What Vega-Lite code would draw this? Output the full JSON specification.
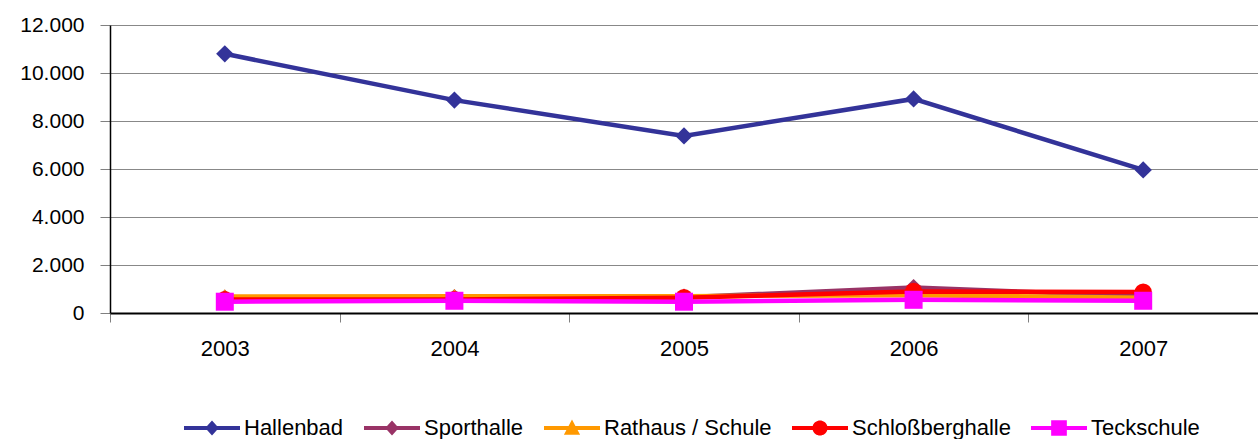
{
  "$schema": "https://vega.github.io/schema/vega-lite/v6.json",
  "width": 1148,
  "height": 288,
  "autosize": {"type": "none"},
  "padding": {"left": 110, "top": 25, "right": 0, "bottom": 126},
  "background": "white",
  "config": {"view": {"stroke": null}, "font": "Liberation Sans"},
  "data": {"values": [
    {"Jahr": "2003", "Objekt": "Hallenbad", "Wert": 10800},
    {"Jahr": "2004", "Objekt": "Hallenbad", "Wert": 8870},
    {"Jahr": "2005", "Objekt": "Hallenbad", "Wert": 7380},
    {"Jahr": "2006", "Objekt": "Hallenbad", "Wert": 8920},
    {"Jahr": "2007", "Objekt": "Hallenbad", "Wert": 5960},
    {"Jahr": "2003", "Objekt": "Sporthalle", "Wert": 620},
    {"Jahr": "2004", "Objekt": "Sporthalle", "Wert": 640},
    {"Jahr": "2005", "Objekt": "Sporthalle", "Wert": 660},
    {"Jahr": "2006", "Objekt": "Sporthalle", "Wert": 1060},
    {"Jahr": "2007", "Objekt": "Sporthalle", "Wert": 700},
    {"Jahr": "2003", "Objekt": "Rathaus / Schule", "Wert": 690},
    {"Jahr": "2004", "Objekt": "Rathaus / Schule", "Wert": 700},
    {"Jahr": "2005", "Objekt": "Rathaus / Schule", "Wert": 700},
    {"Jahr": "2006", "Objekt": "Rathaus / Schule", "Wert": 740},
    {"Jahr": "2007", "Objekt": "Rathaus / Schule", "Wert": 640},
    {"Jahr": "2003", "Objekt": "Schloßberghalle", "Wert": 560},
    {"Jahr": "2004", "Objekt": "Schloßberghalle", "Wert": 560},
    {"Jahr": "2005", "Objekt": "Schloßberghalle", "Wert": 640},
    {"Jahr": "2006", "Objekt": "Schloßberghalle", "Wert": 900},
    {"Jahr": "2007", "Objekt": "Schloßberghalle", "Wert": 870},
    {"Jahr": "2003", "Objekt": "Teckschule", "Wert": 470},
    {"Jahr": "2004", "Objekt": "Teckschule", "Wert": 510},
    {"Jahr": "2005", "Objekt": "Teckschule", "Wert": 470},
    {"Jahr": "2006", "Objekt": "Teckschule", "Wert": 550},
    {"Jahr": "2007", "Objekt": "Teckschule", "Wert": 510}
  ]},
  "encoding": {
    "x": {
      "field": "Jahr", "type": "ordinal",
      "scale": {"type": "band", "paddingInner": 0, "paddingOuter": 0},
      "axis": {
        "title": null, "labelAngle": 0, "tickBand": "extent", "tickSize": 9,
        "tickColor": "#808080", "domainColor": "#000000", "domainWidth": 2,
        "labelFont": "Liberation Sans", "labelFontSize": 22, "labelPadding": 16, "labelColor": "#000000", "grid": false
      }
    },
    "y": {
      "field": "Wert", "type": "quantitative",
      "scale": {"domain": [0, 12000]},
      "axis": {
        "title": null, "values": [0, 2000, 4000, 6000, 8000, 10000, 12000],
        "grid": true, "gridColor": "#888888", "gridWidth": 1,
        "tickSize": 10, "tickColor": "#808080", "domainColor": "#000000", "domainWidth": 1.5,
        "labelFont": "Liberation Sans", "labelFontSize": 21, "labelPadding": 16, "labelColor": "#000000",
        "labelExpr": "replace(format(datum.value, ','), ',', '.')"
      }
    },
    "color": {
      "field": "Objekt", "type": "nominal",
      "scale": {
        "domain": ["Hallenbad", "Sporthalle", "Rathaus / Schule", "Schloßberghalle", "Teckschule"],
        "range": ["#333399", "#993366", "#FF9900", "#FF0000", "#FF00FF"]
      },
      "legend": {
        "title": null, "orient": "none", "legendX": 74, "legendY": 375,
        "direction": "horizontal", "symbolSize": 3136, "labelOffset": 4,
        "columnPadding": 20, "labelFontSize": 22, "labelColor": "#000000", "labelLimit": 0,
        "symbolStrokeWidth": 0, "symbolOpacity": 1,
        "encode": {
          "symbols": {
            "update": {
              "shape": {"signal": "datum.value === 'Rathaus / Schule' ? 'M-1,-0.071L-0.123,-0.071L0,-0.3L0.123,-0.071L1,-0.071L1,0.071L0.199,0.071L0.29,0.24L-0.29,0.24L-0.199,0.071L-1,0.071Z' : datum.value === 'Schloßberghalle' ? 'M-1,-0.071L-0.26,-0.071A0.27,0.27,0,0,1,0.26,-0.071L1,-0.071L1,0.071L0.26,0.071A0.27,0.27,0,0,1,-0.26,0.071L-1,0.071Z' : datum.value === 'Teckschule' ? 'M-1,-0.071L-0.28,-0.071L-0.28,-0.28L0.28,-0.28L0.28,-0.071L1,-0.071L1,0.071L0.28,0.071L0.28,0.28L-0.28,0.28L-0.28,0.071L-1,0.071Z' : 'M-1,-0.071L-0.177,-0.071L0,-0.27L0.177,-0.071L1,-0.071L1,0.071L0.177,0.071L0,0.27L-0.177,0.071L-1,0.071Z'"}
            }
          }
        }
      }
    }
  },
  "layer": [
    {"mark": {"type": "line", "strokeWidth": 4.5}},
    {
      "transform": [{"filter": {"field": "Objekt", "oneOf": ["Hallenbad", "Sporthalle"]}}],
      "mark": {"type": "point", "shape": "diamond", "filled": true, "size": 300, "opacity": 1, "strokeWidth": 0}
    },
    {
      "transform": [{"filter": {"field": "Objekt", "equal": "Rathaus / Schule"}}],
      "mark": {"type": "point", "shape": "triangle-up", "filled": true, "size": 280, "opacity": 1, "strokeWidth": 0}
    },
    {
      "transform": [{"filter": {"field": "Objekt", "equal": "Schloßberghalle"}}],
      "mark": {"type": "point", "shape": "circle", "filled": true, "size": 300, "opacity": 1, "strokeWidth": 0}
    },
    {
      "transform": [{"filter": {"field": "Objekt", "equal": "Teckschule"}}],
      "mark": {"type": "point", "shape": "square", "filled": true, "size": 324, "opacity": 1, "strokeWidth": 0}
    }
  ]
}
